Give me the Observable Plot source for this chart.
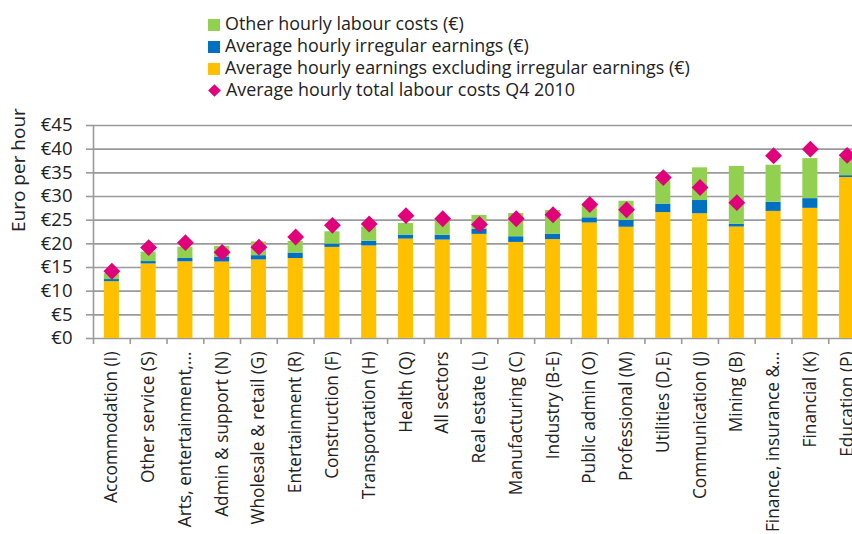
<!DOCTYPE html>
<html>
<head>
<meta charset="utf-8">
<script src="https://cdn.jsdelivr.net/npm/d3@7"></script>
<script src="https://cdn.jsdelivr.net/npm/@observablehq/plot@0.6"></script>
<style>
  html, body { margin: 0; padding: 0; overflow: hidden; background: #fff; width: 852px; height: 534px; }
  body { font-family: "Open Sans", Lato, sans-serif; color: #222; position: relative; }
  #legend { position: relative; height: 110px; width: 852px; }
  .row { position: absolute; left: 208px; font-size: 17.9px; line-height: 22px; white-space: nowrap; }
  .sw { display: inline-block; width: 12px; height: 12px; margin-right: 5px; vertical-align: -1px; }
  .dia { display: inline-block; width: 9px; height: 9px; margin: 0 7px 0 2px; transform: rotate(45deg); vertical-align: 1px; }
  #chart { width: 900px; }
  #chart svg { display: block; overflow: visible; max-width: none !important; }
</style>
</head>
<body>
<div id="legend"></div>
<div id="chart"></div>
<script>
const categories = ["Accommodation (I)", "Other service (S)", "Arts, entertainment,…", "Admin & support (N)", "Wholesale & retail (G)", "Entertainment (R)", "Construction (F)", "Transportation (H)", "Health (Q)", "All sectors", "Real estate (L)", "Manufacturing (C)", "Industry (B-E)", "Public admin (O)", "Professional (M)", "Utilities (D,E)", "Communication (J)", "Mining (B)", "Finance, insurance &…", "Financial (K)", "Education (P)"];
const baseEarnings = [12.0, 15.75, 16.2, 16.15, 16.6, 16.9, 19.25, 19.55, 21.0, 20.8, 22.0, 20.3, 20.9, 24.4, 23.5, 26.6, 26.35, 23.55, 26.85, 27.5, 34.0];
const irregularEarnings = [0.45, 0.5, 0.7, 1.05, 0.9, 1.15, 0.7, 1.0, 0.85, 1.0, 1.05, 1.2, 1.15, 1.1, 1.45, 1.8, 2.8, 0.55, 1.95, 2.05, 0.4];
const otherCosts = [1.25, 2.0, 2.4, 2.25, 2.9, 2.45, 2.6, 3.0, 2.45, 3.2, 2.95, 4.9, 5.0, 2.6, 4.05, 5.0, 6.9, 12.25, 7.8, 8.45, 3.7];
const totalQ4 = [14.2, 19.2, 20.25, 18.2, 19.3, 21.45, 23.9, 24.2, 25.95, 25.3, 24.1, 25.3, 26.15, 28.3, 27.2, 34.0, 31.9, 28.7, 38.6, 40.0, 38.7];
const yTicks = [0, 5, 10, 15, 20, 25, 30, 35, 40, 45];

const seriesNames = ["Average hourly earnings excluding irregular earnings (€)", "Average hourly irregular earnings (€)", "Other hourly labour costs (€)"];
const seriesColors = ["#ffc000", "#0070c0", "#92d050"];
const totalName = "Average hourly total labour costs Q4 2010";
const totalColor = "#e2007a";

// legend
const legend = document.getElementById("legend");
const legendItems = [
  {name: seriesNames[2], color: seriesColors[2], kind: "sq"},
  {name: seriesNames[1], color: seriesColors[1], kind: "sq"},
  {name: seriesNames[0], color: seriesColors[0], kind: "sq"},
  {name: totalName, color: totalColor, kind: "dia"}
];
legendItems.forEach((it, i) => {
  const row = document.createElement("div");
  row.className = "row";
  row.style.top = (11.5 + i * 22.3) + "px";
  const m = document.createElement("span");
  m.className = it.kind === "sq" ? "sw" : "dia";
  m.style.background = it.color;
  row.appendChild(m);
  row.appendChild(document.createTextNode(it.name));
  legend.appendChild(row);
});

const values = [baseEarnings, irregularEarnings, otherCosts];
const stacked = [];
values.forEach((arr, s) => arr.forEach((v, i) => stacked.push({cat: categories[i], series: seriesNames[s], value: v})));
const totals = categories.map((c, i) => ({cat: c, value: totalQ4[i]}));

const W = 870, mL = 93, mR = 5;
const step = (W - mL - mR) / categories.length;

const plot = Plot.plot({
  width: W,
  height: 424,
  marginLeft: mL,
  marginRight: mR,
  marginTop: 15,
  marginBottom: 196,
  style: {fontFamily: "'Open Sans', Lato, sans-serif", color: "#222", background: "transparent", maxWidth: "none"},
  x: {type: "band", domain: categories, paddingInner: 0.59, paddingOuter: 0.295, round: false, label: null},
  y: {domain: [0, 45], label: null},
  color: {domain: seriesNames, range: seriesColors},
  marks: [
    Plot.gridY(yTicks, {stroke: "#9a9a9a", strokeOpacity: 1, strokeWidth: 1.6}),
    Plot.axisY(yTicks, {tickSize: 7, tickPadding: 14, stroke: "#9a9a9a", strokeWidth: 1.6, tickFormat: d => "€" + d, fontSize: 18.5, fill: "#222"}),
    Plot.ruleX([categories[0]], {x: d => d, y1: 0, y2: 45, dx: -step / 2, stroke: "#9a9a9a", strokeWidth: 1.6}),
    Plot.axisX({tickSize: 6, tickFormat: () => "", dx: -step / 2, stroke: "#9a9a9a", strokeWidth: 1.6}),
    Plot.axisX({tickSize: 0, tickPadding: 13, tickRotate: -90, fontSize: 17.3, fill: "#222"}),
    Plot.barY(stacked, {x: "cat", y: "value", fill: "series"}),
    Plot.dot(totals, {x: "cat", y: "value", symbol: "diamond2", r: 7.6, fill: totalColor, stroke: null}),
    Plot.text(["Euro per hour"], {frameAnchor: "left", dx: -75, rotate: -90, fontSize: 19, fill: "#222"})
  ]
});
document.getElementById("chart").appendChild(plot);
</script>
</body>
</html>
